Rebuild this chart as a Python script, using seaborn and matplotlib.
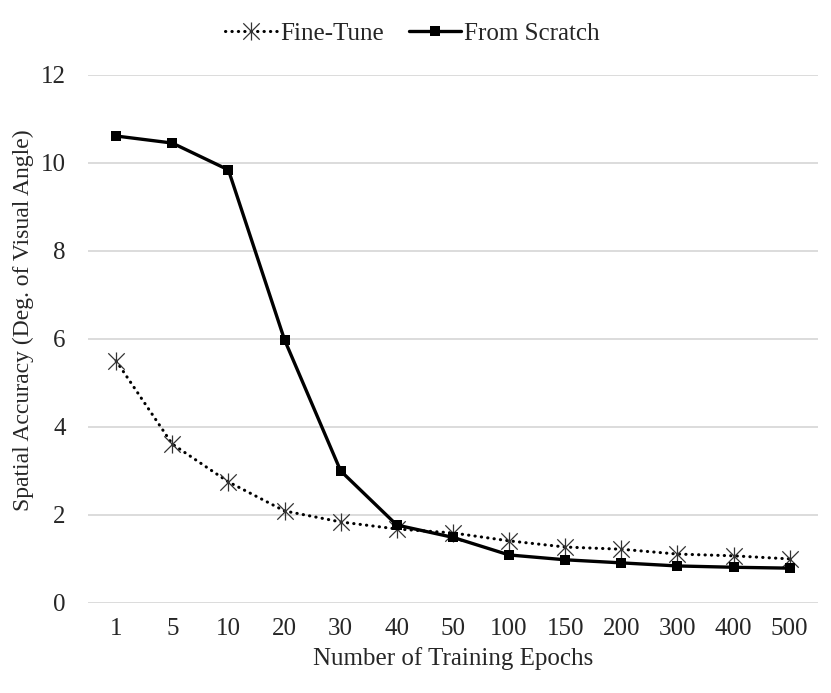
import numpy as np
import pandas as pd
import matplotlib
matplotlib.use('Agg')
import matplotlib.pyplot as plt
from matplotlib.path import Path
import seaborn as sns

# Datos
epochs = ['1', '5', '10', '20', '30', '40', '50', '100', '150', '200', '300', '400', '500']
fine_tune = [5.50, 3.61, 2.75, 2.09, 1.84, 1.68, 1.59, 1.41, 1.27, 1.22, 1.11, 1.07, 1.00]
from_scratch = [10.61, 10.45, 9.84, 5.98, 3.00, 1.77, 1.49, 1.09, 0.98, 0.91, 0.84, 0.81, 0.79]

df = pd.DataFrame({'epochs': epochs, 'Fine-Tune': fine_tune, 'From Scratch': from_scratch})

sns.set_theme(style='white')
plt.rcParams['font.family'] = ['Liberation Serif', 'DejaVu Serif']
fs = 18

# Marcador estrella tipo Excel (X con barra vertical)
star = Path([(-1, -1), (1, 1), (-1, 1), (1, -1), (0, -1.1), (0, 1.1)],
            [Path.MOVETO, Path.LINETO, Path.MOVETO, Path.LINETO, Path.MOVETO, Path.LINETO])

fig = plt.figure(figsize=(8.31, 6.93), dpi=100)
ax = fig.add_axes([0.106, 0.13, 0.878, 0.762])

sns.lineplot(data=df, x='epochs', y='Fine-Tune', ax=ax, color='black', lw=2.2,
             linestyle=(0, (0.1, 2.0)), dash_capstyle='round', marker=star, markersize=13,
             markeredgewidth=0.9, markerfacecolor='none', markeredgecolor='#333333',
             label='Fine-Tune', sort=False)
sns.lineplot(data=df, x='epochs', y='From Scratch', ax=ax, color='black', lw=2.4,
             marker='s', markersize=7, markeredgewidth=0, label='From Scratch', sort=False)

ax.set_ylim(0, 12)
ax.set_yticks(np.arange(0, 13, 2))
ax.set_xlim(-0.5, len(epochs) - 0.5)
ax.grid(axis='y', color='#d9d9d9', lw=1.3)
ax.set_axisbelow(True)
for s in ax.spines.values():
    s.set_visible(False)
ax.tick_params(axis='both', labelsize=fs, length=0)
ax.tick_params(axis='x', pad=11)
ax.tick_params(axis='y', pad=16)

ax.set_xlabel('Number of Training Epochs', fontsize=fs, labelpad=5)
ax.set_ylabel('Spatial Accuracy (Deg. of Visual Angle)', fontsize=17)
ax.yaxis.set_label_coords(23 / 831, 1 - 320 / 693, transform=fig.transFigure)
ax.yaxis.label.set_va('center')

ax.legend(loc='center', bbox_to_anchor=(412 / 831, 0.951), bbox_transform=fig.transFigure,
          ncol=2, frameon=False, fontsize=fs, handlelength=2.1, handletextpad=0.1,
          columnspacing=1.0)

fig.savefig('out.png', dpi=100)
